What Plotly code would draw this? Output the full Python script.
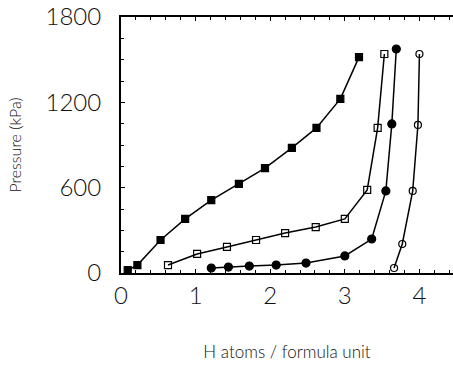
import plotly.graph_objects as go

# Series: H atoms / formula unit vs Pressure (kPa)
s1_x = [0.09, 0.22, 0.53, 0.86, 1.21, 1.58, 1.93, 2.29, 2.62, 2.94, 3.19]
s1_y = [20, 56, 232, 380, 513, 626, 738, 880, 1020, 1224, 1518]

s2_x = [0.63, 1.02, 1.42, 1.81, 2.20, 2.61, 3.00, 3.30, 3.44, 3.53]
s2_y = [56, 134, 183, 232, 281, 323, 380, 584, 1020, 1540]

s3_x = [1.21, 1.44, 1.72, 2.08, 2.48, 3.00, 3.36, 3.55, 3.63, 3.69]
s3_y = [35, 42, 49, 56, 70, 120, 239, 577, 1048, 1575]

s4_x = [3.66, 3.77, 3.91, 3.98, 4.00]
s4_y = [35, 204, 577, 1041, 1540]

x_ticks = [0, 1, 2, 3, 4]
y_ticks = [0, 600, 1200, 1800]

FONT = "Lato, Liberation Sans, Arial, sans-serif"

fig = go.Figure()
series = [
    (s1_x, s1_y, "square", 7),
    (s2_x, s2_y, "square-open", 7),
    (s3_x, s3_y, "circle", 8),
    (s4_x, s4_y, "circle-open", 7),
]
for xs, ys, sym, sz in series:
    fig.add_trace(go.Scatter(
        x=xs, y=ys, mode="lines+markers",
        line=dict(color="black", width=1.5),
        marker=dict(symbol=sym, size=sz, color="black",
                    line=dict(color="black", width=1.2)),
        showlegend=False,
    ))

fig.update_layout(
    width=453, height=365,
    margin=dict(l=121, r=0, t=17, b=92),
    paper_bgcolor="white", plot_bgcolor="white",
    font=dict(family=FONT, color="#111"),
)
fig.update_xaxes(
    range=[0, 4.45], tickvals=x_ticks, ticktext=[str(v) for v in x_ticks],
    showgrid=False, zeroline=False,
    showline=True, linecolor="black", linewidth=2, mirror="ticks",
    ticks="inside", ticklen=4, tickcolor="black",
    minor=dict(dtick=0.2, ticks="inside", ticklen=3, tickcolor="black"),
    tickfont=dict(size=24, family=FONT, color="#111", weight=300),
    title=dict(text="H atoms / formula unit", font=dict(size=17, family=FONT, color="#111", weight=300), standoff=38),
)
fig.update_yaxes(
    range=[0, 1800], tickvals=y_ticks, ticktext=[str(v) for v in y_ticks],
    showgrid=False, zeroline=False,
    showline=True, linecolor="black", linewidth=2, mirror=False,
    ticks="inside", ticklen=4, tickcolor="black",
    minor=dict(dtick=150, ticks="inside", ticklen=3, tickcolor="black"),
    tickfont=dict(size=24, family=FONT, color="#111", weight=300),
    ticklabelstandoff=13,
    title=dict(text="Pressure (kPa)", font=dict(size=16, family=FONT, color="#111", weight=300), standoff=20),
)

fig.write_html("out.html")
